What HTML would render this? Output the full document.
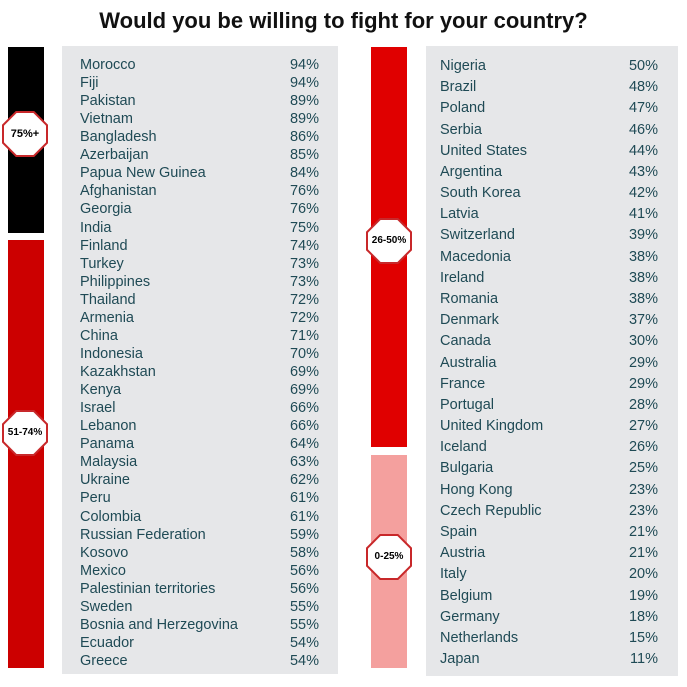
<!DOCTYPE html>
<html><head><meta charset="utf-8"><style>
body{margin:0;width:687px;height:687px;background:#fff;position:relative;overflow:hidden;font-family:"Liberation Sans",sans-serif}
.t{position:absolute;left:0;width:687px;top:8px;text-align:center;font-weight:bold;font-size:22px;color:#111}
.bar{position:absolute;width:36px}
.panel{position:absolute;background:#e6e7e9}
.r{position:absolute;font-size:14.5px;color:#1f4a55;white-space:nowrap}
.oct{position:absolute;width:46px;height:46px;clip-path:polygon(30% 0,70% 0,100% 30%,100% 70%,70% 100%,30% 100%,0 70%,0 30%);background:#c8282a}
.oct div{position:absolute;left:2px;top:2px;width:42px;height:42px;background:#fff;clip-path:polygon(30% 0,70% 0,100% 30%,100% 70%,70% 100%,30% 100%,0 70%,0 30%);font-weight:bold;font-size:11px;line-height:42px;text-align:center;color:#000}
</style></head><body>
<div class="t">Would you be willing to fight for your country?</div>
<div class="bar" style="left:8px;top:47px;height:186px;background:#000"></div>
<div class="bar" style="left:8px;top:240px;height:428px;background:#cc0000"></div>
<div class="bar" style="left:371px;top:47px;height:400px;background:#e00000"></div>
<div class="bar" style="left:371px;top:455px;height:213px;background:#f4a09e"></div>
<div class="panel" style="left:62px;top:46px;width:276px;height:628px"></div>
<div class="panel" style="left:426px;top:46px;width:252px;height:630px"></div>
<div class="oct" style="left:2px;top:111px"><div>75%+</div></div>
<div class="oct" style="left:2px;top:410px"><div style="font-size:10px">51-74%</div></div>
<div class="oct" style="left:366px;top:218px"><div style="font-size:10px">26-50%</div></div>
<div class="oct" style="left:366px;top:534px"><div style="font-size:10px">0-25%</div></div>
<div id="L"></div><div id="R"></div>
<script>
var L=[["Morocco",94],["Fiji",94],["Pakistan",89],["Vietnam",89],["Bangladesh",86],["Azerbaijan",85],["Papua New Guinea",84],["Afghanistan",76],["Georgia",76],["India",75],["Finland",74],["Turkey",73],["Philippines",73],["Thailand",72],["Armenia",72],["China",71],["Indonesia",70],["Kazakhstan",69],["Kenya",69],["Israel",66],["Lebanon",66],["Panama",64],["Malaysia",63],["Ukraine",62],["Peru",61],["Colombia",61],["Russian Federation",59],["Kosovo",58],["Mexico",56],["Palestinian territories",56],["Sweden",55],["Bosnia and Herzegovina",55],["Ecuador",54],["Greece",54]];
var R=[["Nigeria",50],["Brazil",48],["Poland",47],["Serbia",46],["United States",44],["Argentina",43],["South Korea",42],["Latvia",41],["Switzerland",39],["Macedonia",38],["Ireland",38],["Romania",38],["Denmark",37],["Canada",30],["Australia",29],["France",29],["Portugal",28],["United Kingdom",27],["Iceland",26],["Bulgaria",25],["Hong Kong",23],["Czech Republic",23],["Spain",21],["Austria",21],["Italy",20],["Belgium",19],["Germany",18],["Netherlands",15],["Japan",11]];
var h="";
L.forEach(function(d,i){var y=57+i*18.06;h+='<div class="r" style="left:80px;top:'+y+'px">'+d[0]+'</div><div class="r" style="left:270px;width:49px;text-align:right;top:'+y+'px">'+d[1]+'%</div>';});
R.forEach(function(d,i){var y=58+i*21.18;h+='<div class="r" style="left:440px;top:'+y+'px">'+d[0]+'</div><div class="r" style="left:610px;width:48px;text-align:right;top:'+y+'px">'+d[1]+'%</div>';});
document.getElementById("L").innerHTML=h;
</script>
</body></html>
